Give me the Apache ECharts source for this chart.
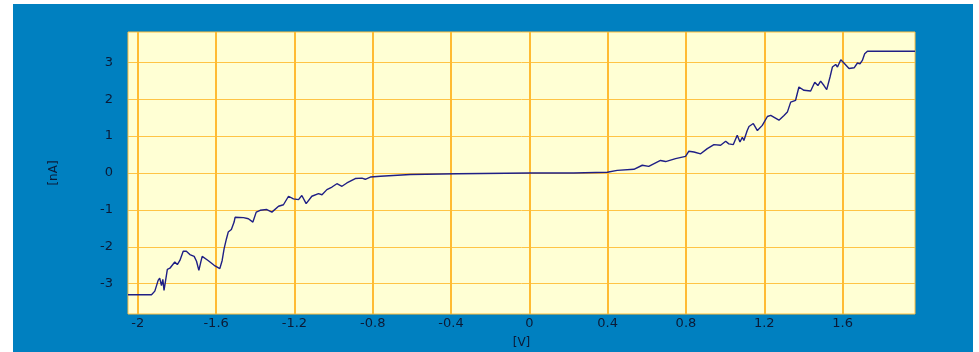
<!DOCTYPE html>
<html>
<head>
<meta charset="utf-8">
<script src="https://cdn.jsdelivr.net/npm/echarts@6/dist/echarts.min.js"></script>
<style>
  html, body { margin: 0; padding: 0; background: #ffffff; overflow: hidden; }
  #chart { position: absolute; left: 13px; top: 4px; width: 960px; height: 348px; }
</style>
</head>
<body>
<div id="chart"></div>
<script>
// I-V sweep: bias voltage [V] against tunnelling current [nA]
const voltage = [
  -2.050, -1.930, -1.913, -1.896, -1.888, -1.879, -1.872, -1.866, -1.849, -1.836,
  -1.811, -1.798, -1.785, -1.768, -1.752, -1.734, -1.712, -1.700, -1.688, -1.678,
  -1.671, -1.641, -1.610, -1.581, -1.569, -1.559, -1.547, -1.538, -1.522, -1.508,
  -1.503, -1.494, -1.460, -1.435, -1.412, -1.395, -1.375, -1.341, -1.315, -1.281,
  -1.256, -1.230, -1.205, -1.179, -1.162, -1.140, -1.111, -1.077, -1.059, -1.034,
  -1.008, -0.983, -0.957, -0.932, -0.889, -0.855, -0.838, -0.812, -0.761, -0.608,
  -0.369, 0.006, 0.227, 0.398, 0.449, 0.534, 0.577, 0.610, 0.670, 0.696,
  0.747, 0.798, 0.815, 0.841, 0.875, 0.909, 0.943, 0.977, 1.003, 1.019,
  1.042, 1.062, 1.076, 1.088, 1.096, 1.113, 1.122, 1.144, 1.165, 1.190,
  1.216, 1.233, 1.275, 1.301, 1.318, 1.335, 1.360, 1.377, 1.403, 1.437,
  1.458, 1.474, 1.488, 1.505, 1.519, 1.536, 1.548, 1.565, 1.574, 1.591,
  1.607, 1.633, 1.659, 1.676, 1.689, 1.701, 1.713, 1.727, 1.970
];
const current = [
  -3.30, -3.30, -3.20, -2.91, -2.85, -3.05, -2.88, -3.18, -2.61, -2.58,
  -2.41, -2.48, -2.37, -2.12, -2.12, -2.21, -2.26, -2.39, -2.64, -2.41,
  -2.26, -2.37, -2.50, -2.59, -2.37, -2.05, -1.78, -1.60, -1.53, -1.33,
  -1.20, -1.24, -1.21, -1.24, -1.33, -1.06, -1.01, -0.99, -1.06, -0.90,
  -0.86, -0.63, -0.70, -0.72, -0.61, -0.83, -0.63, -0.56, -0.59, -0.45,
  -0.38, -0.29, -0.36, -0.27, -0.15, -0.14, -0.17, -0.11, -0.09, -0.04,
  -0.02, 0.00, 0.00, 0.02, 0.07, 0.10, 0.21, 0.18, 0.34, 0.31,
  0.39, 0.45, 0.59, 0.57, 0.52, 0.66, 0.77, 0.75, 0.86, 0.79,
  0.77, 1.02, 0.84, 0.97, 0.88, 1.15, 1.26, 1.34, 1.15, 1.29,
  1.53, 1.56, 1.43, 1.56, 1.65, 1.92, 1.97, 2.33, 2.24, 2.22,
  2.46, 2.37, 2.49, 2.37, 2.26, 2.60, 2.87, 2.94, 2.87, 3.07,
  2.98, 2.83, 2.85, 2.98, 2.96, 3.05, 3.23, 3.30, 3.30
];
const xTicks = [-2, -1.6, -1.2, -0.8, -0.4, 0, 0.4, 0.8, 1.2, 1.6];
const yTicks = [-3, -2, -1, 0, 1, 2, 3];
const xRange = [-2.05, 1.97];
const yRange = [-3.82, 3.82];
const xName = '[V]';
const yName = '[nA]';

const chart = echarts.init(document.getElementById('chart'), null, { renderer: 'canvas' });

const labelFont = {
  color: '#0b1a36',
  fontFamily: 'DejaVu Sans',
  fontSize: 13
};

chart.setOption({
  animation: false,
  backgroundColor: '#0080c0',
  grid: {
    left: 115, top: 28, right: 58, bottom: 38,
    containLabel: false,
    outerBoundsMode: 'none',
    show: true,
    backgroundColor: '#ffffd4',
    borderColor: '#ffbf40',
    borderWidth: 1
  },
  xAxis: {
    type: 'value',
    min: xRange[0],
    max: xRange[1],
    name: xName,
    nameLocation: 'middle',
    nameGap: 23,
    nameTextStyle: { color: '#0b1a36', fontFamily: 'DejaVu Sans', fontSize: 12 },
    axisLine: { show: false },
    axisTick: { show: false, customValues: xTicks },
    axisLabel: Object.assign({ customValues: xTicks, margin: 3,
      formatter: v => String(Math.round(v * 10) / 10) }, labelFont),
    splitLine: { show: true, lineStyle: { color: '#ffbb33', width: 2 } }
  },
  yAxis: {
    type: 'value',
    min: yRange[0],
    max: yRange[1],
    name: yName,
    nameLocation: 'middle',
    nameRotate: 90,
    nameGap: 68,
    nameTextStyle: { color: '#0b1a36', fontFamily: 'DejaVu Sans', fontSize: 12 },
    axisLine: { show: false },
    axisTick: { show: false, customValues: yTicks },
    axisLabel: Object.assign({ customValues: yTicks, margin: 15 }, labelFont),
    splitLine: { show: true, lineStyle: { color: '#ffc445', width: 1 } }
  },
  series: [{
    type: 'line',
    data: voltage.map((v, i) => [v, current[i]]),
    symbol: 'none',
    lineStyle: { color: '#1f1f85', width: 1.4 }
  }]
});
</script>
</body>
</html>
